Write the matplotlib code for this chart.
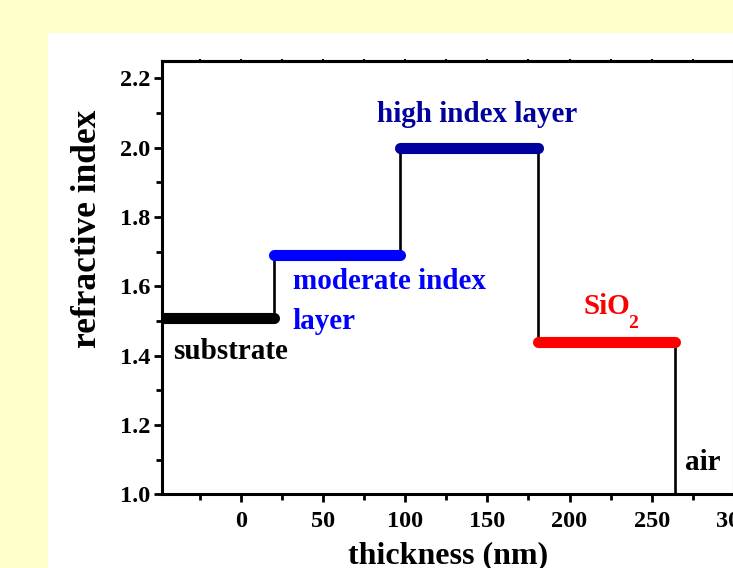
import matplotlib
matplotlib.use("Agg")
import matplotlib.pyplot as plt
from matplotlib.ticker import MultipleLocator
from matplotlib.patches import Rectangle

# data
layers = ["substrate", "moderate index layer", "high index layer", "SiO2", "air"]
edges = [-48, 20, 97, 181, 264, 300]          # layer boundaries (nm)
indices = [1.51, 1.69, 2.0, 1.44, 1.0]         # refractive index per layer
seg_colors = ["#000000", "#0000FF", "#00009C", "#FF0000", None]

plt.rcParams['font.family'] = ['Liberation Serif', 'DejaVu Serif']
plt.rcParams['font.weight'] = 'bold'

fig = plt.figure(figsize=(7.33, 5.68), dpi=100)
fig.patch.set_facecolor("#FFFFCC")
fig.patches.append(Rectangle((48/733, 0), 1 - 48/733, (568-33)/568,
                             transform=fig.transFigure, facecolor="white",
                             edgecolor="none", zorder=-5))

ax = fig.add_axes([161.7/733, 73.7/568, (734-161.7)/733, (507-73.7)/568])
ax.set_zorder(2)
ax.set_facecolor("white")

# black step profile
xs, ys = [], []
for i, n in enumerate(indices):
    xs += [edges[i], edges[i+1]]
    ys += [n, n]
ax.plot(xs, ys, color="black", lw=1.9, zorder=2)

# thick coloured layer segments
for i, (n, c) in enumerate(zip(indices, seg_colors)):
    if c is None:
        continue
    ax.plot([edges[i], edges[i+1]], [n, n], color=c, lw=8,
            solid_capstyle="round", zorder=3, clip_on=(i == 0))

ax.set_xlim(-48, 300)
ax.set_ylim(1.0, 2.25)
ax.xaxis.set_major_locator(MultipleLocator(50))
ax.xaxis.set_minor_locator(MultipleLocator(25))
ax.yaxis.set_major_locator(MultipleLocator(0.2))
ax.yaxis.set_minor_locator(MultipleLocator(0.1))
ax.yaxis.set_major_formatter(plt.FormatStrFormatter('%.1f'))

for s in ax.spines.values():
    s.set_linewidth(2.2)

ax.tick_params(axis='both', which='major', direction='out', length=6, width=2,
               labelsize=17.5, top=False, right=False)
ax.tick_params(axis='both', which='minor', direction='out', length=4, width=2,
               top=False, right=False)
ax.tick_params(axis='x', which='major', pad=6)
ax.tick_params(axis='y', which='major', pad=2)

# top small ticks
sec = ax.secondary_xaxis('top')
sec.xaxis.set_major_locator(MultipleLocator(25))
sec.tick_params(direction='inout', length=3, width=1.5, labeltop=False)
sec.spines['top'].set_linewidth(2.2)

ax.set_xlabel("thickness (nm)", fontsize=23, fontweight='bold', labelpad=7)
ax.set_ylabel("refractive index", fontsize=25.5, fontweight='bold')
ax.yaxis.set_label_coords(-0.101, 0.612)

fs = 21
ax.text(-41.3, 1.411, "substrate", color="black", fontsize=fs, fontweight='bold',
        ha='left', va='center')
ax.text(31.6, 1.613, "moderate index", color="#0000FF", fontsize=fs,
        fontweight='bold', ha='left', va='center')
ax.text(31.6, 1.498, "layer", color="#0000FF", fontsize=fs, fontweight='bold',
        ha='left', va='center')
ax.text(83.2, 2.096, "high index layer", color="#00009C", fontsize=fs,
        fontweight='bold', ha='left', va='center')
t = ax.text(208.4, 1.541, "SiO", color="#FF0000", fontsize=fs, fontweight='bold',
            ha='left', va='center')
ax.annotate("2", xy=(1, 0), xycoords=t, xytext=(-1.5, -2), textcoords='offset points',
            color="#FF0000", fontsize=14, fontweight='bold', ha='left', va='center')
ax.text(270.4, 1.093, "air", color="black", fontsize=fs, fontweight='bold',
        ha='left', va='center')

fig.savefig("out.png", dpi=100, facecolor=fig.get_facecolor())
